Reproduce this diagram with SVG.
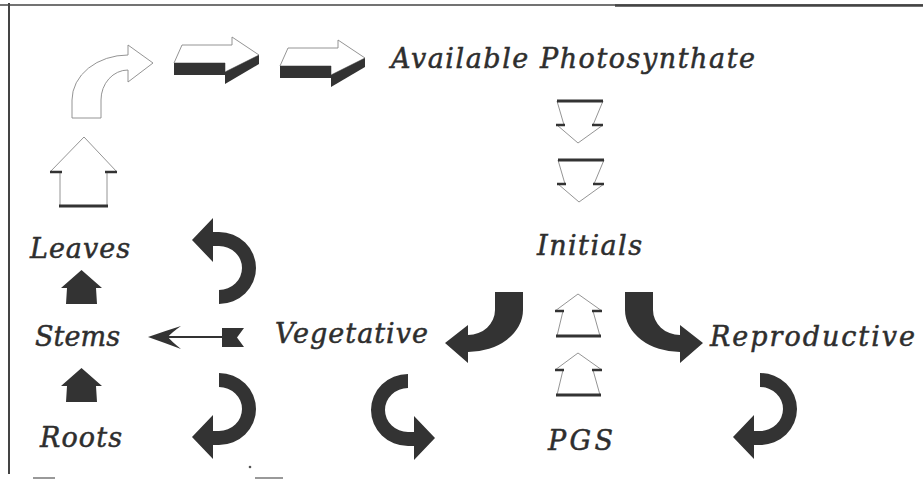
<svg xmlns="http://www.w3.org/2000/svg" width="923" height="482" viewBox="0 0 923 482">
<style>
.lbl{font-family:"DejaVu Serif","Liberation Serif",serif;font-style:italic;font-size:27px;fill:#2e2e2e;stroke:#2e2e2e;stroke-width:0.5}
.dark{fill:#333}
.white{fill:#fff;stroke:#888;stroke-width:0.9}
.bar{stroke:#333;stroke-width:3;fill:none}
.tick{stroke:#333;stroke-width:2.5;fill:none}
.frame{stroke:#444;fill:none}
</style>
<defs>
<path id="curl" d="M213,232 L219,232 A37,36 0 0 1 219,304 L219,290 A23,22 0 0 0 219,246 L213,246 L213,262 L192,240 L213,218 Z"/>
<path id="swoop" d="M495,292 L523,292 L523,310 A55,42 0 0 1 468,352 L468,363 L445,343 L468,325 L468,335 A27,25 0 0 0 495,310 Z"/>
<g id="arrow3d">
<polygon class="white" points="174,63 182,45 232,45 232,37 259,55 225,72 225,63"/>
<polygon class="dark" points="174,63 225,63 225,75 174,75"/>
<polygon class="dark" points="225,72 259,55 259,64 225,84"/>
</g>
<g id="downArrow">
<polygon class="white" points="557,101 603,101 593,125 603,125 578,143 557,125 564,125"/>
<line class="bar" x1="557" y1="101" x2="603" y2="101"/>
<line class="tick" x1="556" y1="125" x2="565" y2="125"/>
<line class="tick" x1="592" y1="125" x2="603" y2="125"/>
</g>
<g id="upArrow">
<polygon class="white" points="578,294 602,311 593,311 600,336 557,336 563,311 555,311"/>
<line class="bar" x1="556" y1="336" x2="601" y2="336"/>
<line class="tick" x1="555" y1="311" x2="564" y2="311"/>
<line class="tick" x1="592" y1="311" x2="602" y2="311"/>
</g>
<polygon id="smallUp" points="81.5,270 102,288 96,288 97,304 66,304 67,288 61,288"/>
</defs>

<g id="frame">
<line class="frame" x1="9" y1="3" x2="9" y2="474" stroke-width="2"/>
<line class="frame" x1="0" y1="5" x2="923" y2="5" stroke-width="1.5"/>
<line class="frame" x1="615" y1="5.5" x2="923" y2="5.5" stroke-width="2.5"/>
<line x1="33" y1="478" x2="55" y2="478" stroke="#999" stroke-width="2"/>
<line x1="255" y1="478" x2="283" y2="478" stroke="#999" stroke-width="2"/>
<circle cx="250" cy="467" r="1.3" fill="#555"/>
</g>

<g id="node-available"><text class="lbl" x="391" y="68" textLength="364" lengthAdjust="spacing">Available Photosynthate</text></g>
<g id="node-initials"><text class="lbl" x="537" y="255" textLength="105" lengthAdjust="spacing">Initials</text></g>
<g id="node-leaves"><text class="lbl" x="30" y="258" textLength="100" lengthAdjust="spacing">Leaves</text></g>
<g id="node-stems"><text class="lbl" x="35" y="346" textLength="85" lengthAdjust="spacing">Stems</text></g>
<g id="node-roots"><text class="lbl" x="40" y="447" textLength="82" lengthAdjust="spacing">Roots</text></g>
<g id="node-vegetative"><text class="lbl" x="275" y="343" textLength="153" lengthAdjust="spacing">Vegetative</text></g>
<g id="node-reproductive"><text class="lbl" x="710" y="346" textLength="205" lengthAdjust="spacing">Reproductive</text></g>
<g id="node-pgs"><text class="lbl" x="548" y="450" textLength="65" lengthAdjust="spacing">PGS</text></g>

<g id="connectors">
<polygon class="white" points="84,137 117,172 107,172 107,206 60,206 60,172 50,172"/>
<line class="bar" x1="59" y1="206" x2="108" y2="206"/>
<line class="tick" x1="50" y1="172" x2="62" y2="172"/>
<line class="tick" x1="105" y1="172" x2="117" y2="172"/>
<path class="white" d="M72,118 L72,100 A56,45 0 0 1 128,55 L128,45 L153,63 L128,82 L128,70 A27,30 0 0 0 101,100 L101,118 Z"/>
<use href="#arrow3d"/>
<use href="#arrow3d" transform="translate(106,3)"/>
<use href="#downArrow"/>
<use href="#downArrow" transform="translate(1,59)"/>
<use href="#swoop" class="dark"/>
<use href="#swoop" class="dark" transform="translate(1148,0) scale(-1,1)"/>
<use href="#upArrow"/>
<use href="#upArrow" transform="translate(0,59)"/>
<use href="#curl" class="dark"/>
<use href="#curl" class="dark" transform="translate(0,677) scale(1,-1)"/>
<use href="#curl" class="dark" transform="translate(627,678) scale(-1,-1)"/>
<use href="#curl" class="dark" transform="translate(541,677) scale(1,-1)"/>
<line x1="168" y1="337" x2="224" y2="337" stroke="#333" stroke-width="2"/>
<path class="dark" d="M148,337 Q165,331 181,326 Q171,333 168,337 Q171,341 181,349 Q165,343 148,337 Z"/>
<polygon class="dark" points="222,328 244,328 237,337.5 244,347 222,347"/>
<use href="#smallUp" class="dark"/>
<use href="#smallUp" class="dark" transform="translate(0,98)"/>
</g>
</svg>
